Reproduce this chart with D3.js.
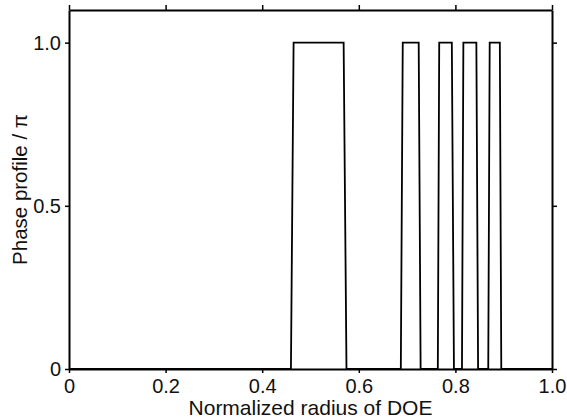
<!DOCTYPE html>
<html>
<head>
<meta charset="utf-8">
<script src="https://cdn.jsdelivr.net/npm/d3@7"></script>
<style>
  body { margin: 0; background: #fff; }
  svg text { font-family: "Liberation Sans", Arial, sans-serif; fill: #111; }
</style>
</head>
<body>
<svg id="chart"></svg>
<script>
// binary phase profile, sampled at the edges (slightly sloped)
const radius = [0, 0.4595, 0.465, 0.5686, 0.5745, 0.687, 0.691, 0.724, 0.728,
                0.7636, 0.7665, 0.7926, 0.797, 0.8136, 0.8165, 0.8434, 0.847,
                0.868, 0.871, 0.892, 0.895, 1.0];
const phase  = [0, 0, 1, 1, 0, 0, 1, 1, 0,
                0, 1, 1, 0, 0, 1, 1, 0,
                0, 1, 1, 0, 0];
const xTicks = [0, 0.2, 0.4, 0.6, 0.8, 1.0];
const xTickLabels = ["0", "0.2", "0.4", "0.6", "0.8", "1.0"];
const yTicks = [0, 0.5, 1.0];
const yTickLabels = ["0", "0.5", "1.0"];

const width = 567, height = 420;
const margin = { top: 10, right: 15, bottom: 51, left: 69 };
const w = width - margin.left - margin.right;
const h = height - margin.top - margin.bottom;

const svg = d3.select("#chart").attr("width", width).attr("height", height);
const g = svg.append("g").attr("transform", `translate(${margin.left},${margin.top})`);

const x = d3.scaleLinear().domain([0, 1]).range([0, w]);
const y = d3.scaleLinear().domain([0, 1.1]).range([h, 0]);

const data = radius.map((r, i) => ({ r, p: phase[i] }));

g.append("path")
  .datum(data)
  .attr("fill", "none")
  .attr("stroke", "#000")
  .attr("stroke-width", 1.8)
  .attr("stroke-linejoin", "miter")
  .attr("d", d3.line().x(d => x(d.r)).y(d => y(d.p)));

function styleAxis(sel) {
  sel.select(".domain").attr("stroke", "#000").attr("stroke-width", 2);
  sel.selectAll(".tick line").attr("stroke", "#000").attr("stroke-width", 1.5);
  sel.selectAll(".tick text").style("font-size", "20px");
}

g.append("g")
  .attr("transform", `translate(0,${h})`)
  .call(d3.axisBottom(x).tickValues(xTicks).tickFormat((d, i) => xTickLabels[i])
    .tickSize(4).tickSizeOuter(0).tickPadding(6))
  .call(styleAxis);

g.append("g")
  .call(d3.axisTop(x).tickValues(xTicks).tickFormat("").tickSize(5).tickSizeOuter(0))
  .call(styleAxis);

g.append("g")
  .call(d3.axisLeft(y).tickValues(yTicks).tickFormat((d, i) => yTickLabels[i])
    .tickSize(4).tickSizeOuter(0).tickPadding(4))
  .call(styleAxis);

g.append("g")
  .attr("transform", `translate(${w},0)`)
  .call(d3.axisRight(y).tickValues(yTicks).tickFormat("").tickSize(5).tickSizeOuter(0))
  .call(styleAxis);

g.selectAll(".domain").attr("fill", "none");

svg.append("text")
  .attr("x", margin.left + w / 2)
  .attr("y", 415)
  .attr("text-anchor", "middle")
  .style("font-size", "21px")
  .text("Normalized radius of DOE");

svg.append("text")
  .attr("transform", `translate(27,${margin.top + h / 2}) rotate(-90)`)
  .attr("text-anchor", "middle")
  .style("font-size", "20.5px")
  .text("Phase profile / π");
</script>
</body>
</html>
